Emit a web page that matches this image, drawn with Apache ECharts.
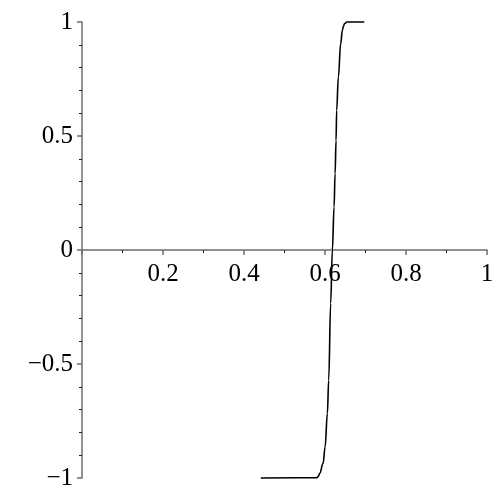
<!DOCTYPE html>
<html>
<head>
<meta charset="utf-8">
<script src="https://cdn.jsdelivr.net/npm/echarts@6/dist/echarts.min.js"></script>
<style>
html,body{margin:0;padding:0;background:#fff;}
#chart{width:500px;height:500px;}
</style>
</head>
<body>
<div id="chart"></div>
<script>
var xValues = [0.4416, 0.58, 0.5837, 0.587, 0.5953, 0.6002, 0.6059, 0.6091, 0.614, 0.6182, 0.6224, 0.6249, 0.6273, 0.6288, 0.633, 0.6387, 0.6429, 0.6453, 0.6485, 0.6544, 0.697];
var yValues = [-1, -0.999, -0.992, -0.979, -0.936, -0.864, -0.716, -0.571, -0.234, 0, 0.189, 0.335, 0.481, 0.613, 0.759, 0.905, 0.964, 0.981, 0.993, 1, 1];
var xTicks = [0.2, 0.4, 0.6, 0.8, 1];
var yTicks = [-1, -0.5, 0, 0.5, 1];

var data = xValues.map(function (x, i) { return [x, yValues[i]]; });
function fmt(v) {
  if (Math.abs(v) < 1e-9) return '0';
  var s = String(Math.round(Math.abs(v) * 10) / 10);
  return v < 0 ? '\u2212' + s : s;
}
var font = 'Liberation Serif';
var gridTop = 22, gridBottom = 22, H = 500;
var zeroOffset = -((H - gridTop - gridBottom) / 2);
var chart = echarts.init(document.getElementById('chart'), null, {renderer: 'canvas'});
chart.setOption({
  animation: false,
  grid: {left: 82, right: 13, top: gridTop, bottom: gridBottom, containLabel: false, outerBoundsMode: 'none'},
  xAxis: {
    type: 'value', min: 0, max: 1, interval: 0.2, position: 'bottom', offset: zeroOffset,
    axisLine: {onZero: false, lineStyle: {color: '#6e6e6e', width: 1.5}},
    axisTick: {show: true, length: 5, lineStyle: {color: '#6e6e6e', width: 1.5}},
    minorTick: {show: true, splitNumber: 2, length: 3, lineStyle: {color: '#222', width: 1}},
    splitLine: {show: false},
    axisLabel: {
      fontFamily: font, fontSize: 25, color: '#000', margin: 12,
      formatter: function (v) { return xTicks.some(function (t) { return Math.abs(t - v) < 1e-9; }) ? fmt(v) : ''; }
    }
  },
  yAxis: {
    type: 'value', min: -1, max: 1, interval: 0.5,
    axisLine: {show: true, onZero: false, lineStyle: {color: '#6e6e6e', width: 1.5}},
    axisTick: {show: true, length: 5, lineStyle: {color: '#6e6e6e', width: 1.5}},
    minorTick: {show: true, splitNumber: 5, length: 3, lineStyle: {color: '#222', width: 1}},
    splitLine: {show: false},
    axisLabel: {
      fontFamily: font, fontSize: 25, color: '#000', margin: 9,
      formatter: function (v) { return yTicks.some(function (t) { return Math.abs(t - v) < 1e-9; }) ? fmt(v) : ''; }
    }
  },
  series: [{
    type: 'line', data: data, showSymbol: false, smooth: 0.4, smoothMonotone: 'x',
    lineStyle: {color: '#000', width: 1.6}, clip: false
  }]
});
</script>
</body>
</html>
